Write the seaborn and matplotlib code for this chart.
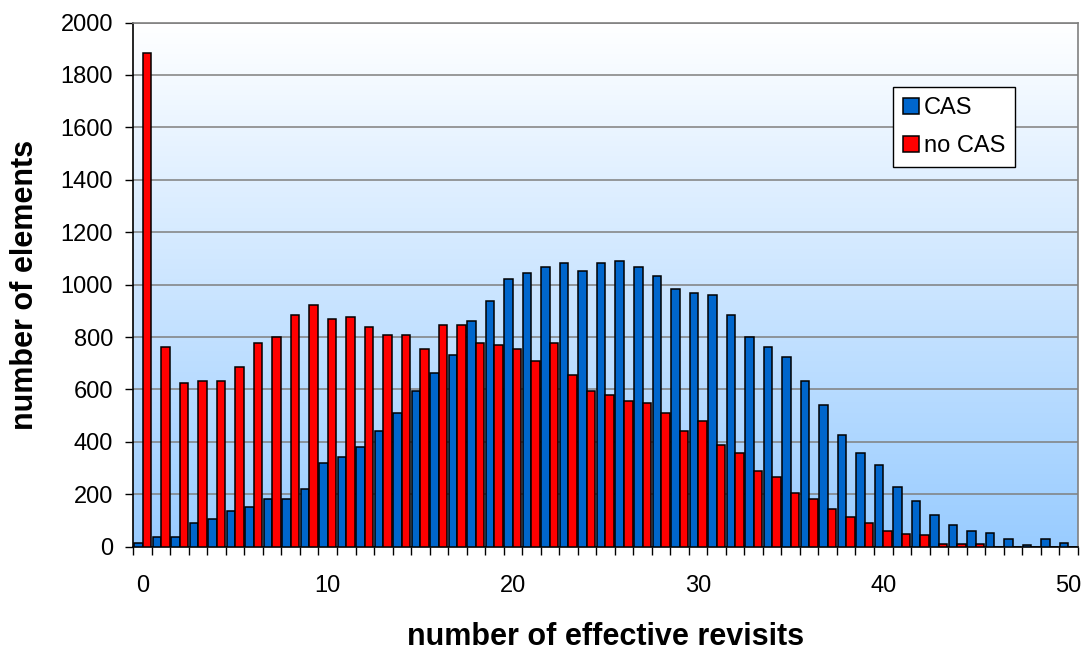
import numpy as np
import pandas as pd
import matplotlib
matplotlib.use("Agg")
import matplotlib.pyplot as plt
import seaborn as sns
from matplotlib.colors import LinearSegmentedColormap

# Histogram of effective revisits per element, with and without CAS
revisits = list(range(51))
cas = [14, 37, 37, 90, 106, 135, 153, 183, 183, 219,
       319, 342, 380, 440, 510, 593, 664, 732, 862, 938,
       1022, 1044, 1069, 1082, 1052, 1082, 1091, 1069, 1031, 984,
       968, 960, 885, 802, 763, 725, 633, 541, 427, 357,
       312, 228, 175, 121, 83, 60, 52, 30, 7, 30,
       14]
no_cas = [1884, 763, 624, 631, 631, 686, 777, 802, 885, 923,
          870, 877, 838, 807, 807, 755, 845, 845, 777, 769,
          755, 708, 777, 654, 593, 579, 556, 548, 510, 440,
          480, 387, 357, 288, 266, 204, 181, 143, 113, 89,
          59, 50, 44, 12, 12, 12, 0, 0, 0, 0,
          0]
series_names = ["CAS", "no CAS"]
series_colors = ["#0066CC", "#FF0000"]
x_tick_values = [0, 10, 20, 30, 40, 50]
x_tick_labels = ["0", "10", "20", "30", "40", "50"]
y_ticks = list(range(0, 2001, 200))

df = pd.DataFrame({
    "revisits": revisits * 2,
    "count": cas + no_cas,
    "series": [series_names[0]] * len(revisits) + [series_names[1]] * len(revisits),
})

plt.rcParams["font.family"] = ["Liberation Sans", "DejaVu Sans"]

fig = plt.figure(figsize=(10.89, 6.53), dpi=100)
rect = [0.1224, 0.1628, 0.8672, 0.8027]

# gradient plot-area fill
bg = fig.add_axes(rect, zorder=0)
cmap = LinearSegmentedColormap.from_list("fill", ["#FFFFFF", "#99CCFF"])
bg.imshow(np.linspace(0, 1, 256)[:, None], cmap=cmap, aspect="auto",
          extent=[0, 1, 0, 1], origin="upper")
bg.axis("off")

ax = fig.add_axes(rect, zorder=1)
ax.patch.set_alpha(0)

sns.barplot(data=df, x="revisits", y="count", hue="series",
            hue_order=series_names, palette=series_colors, saturation=1,
            width=0.92, edgecolor="black", linewidth=1.1,
            ax=ax, legend=True, zorder=3)

ax.set_xlim(-0.5, len(revisits) - 0.5)
ax.set_ylim(0, 2000)
ax.set_yticks(y_ticks)
ax.set_yticklabels([str(v) for v in y_ticks])
ax.yaxis.grid(True, color="#7F7F7F", linewidth=1.1)
ax.xaxis.grid(False)
ax.set_axisbelow(True)

ax.set_xticks([revisits.index(v) for v in x_tick_values])
ax.set_xticklabels(x_tick_labels)
ax.set_xticks(np.arange(-0.5, len(revisits), 1), minor=True)
ax.tick_params(axis="x", which="major", length=0, pad=20.5, labelsize=17)
ax.tick_params(axis="x", which="minor", length=5.8, width=1, color="black",
               direction="out")
ax.tick_params(axis="y", which="major", length=5.8, width=1, color="black",
               direction="out", pad=8.9, labelsize=17)

for side in ("left", "bottom"):
    ax.spines[side].set_color("black")
    ax.spines[side].set_linewidth(1.2)
for side in ("top", "right"):
    ax.spines[side].set_color("#808080")
    ax.spines[side].set_linewidth(1.2)

ax.set_xlabel("number of effective revisits", fontsize=22, fontweight="bold")
ax.set_ylabel("number of elements", fontsize=22, fontweight="bold")
ax.xaxis.set_label_coords(0.5, -0.143)
ax.yaxis.set_label_coords(-0.099, 0.5)

handles, labels = ax.get_legend_handles_labels()
leg = ax.legend(handles, labels, loc="upper left",
                bbox_to_anchor=(0.8044, 0.877), frameon=True, fancybox=False,
                edgecolor="black", facecolor="white", framealpha=1,
                fontsize=17, handlelength=0.68, handleheight=0.68,
                handletextpad=0.22, borderpad=0.42, labelspacing=0.7,
                borderaxespad=0)
leg.get_frame().set_linewidth(1.0)
for h in leg.legend_handles:
    h.set_edgecolor("black")
    h.set_linewidth(1.1)

fig.savefig("out.png", dpi=100)
